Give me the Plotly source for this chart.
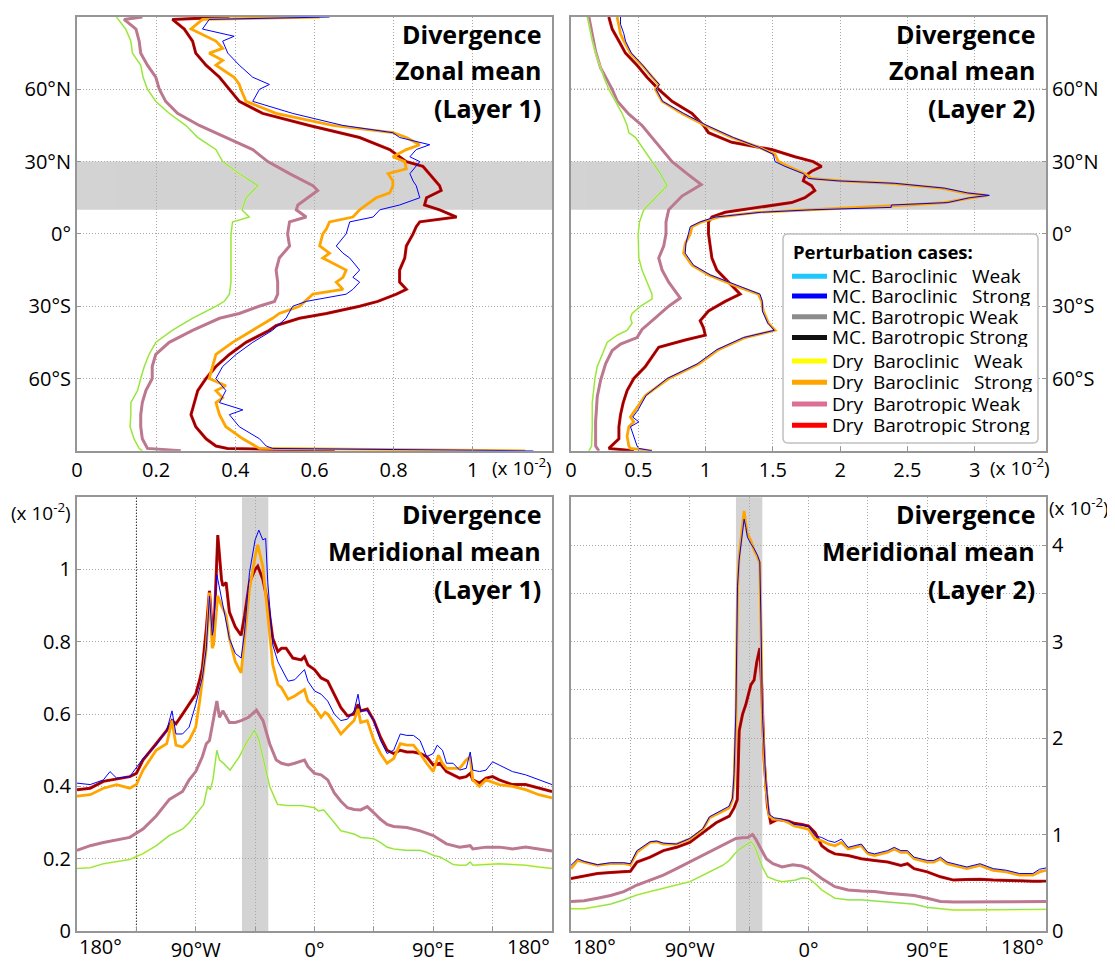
import plotly.graph_objects as go

# ------------------------------------------------------------------
# DATA  (values in units of 10^-2)
# ------------------------------------------------------------------
# --- Top-left: zonal mean, layer 1 (x = divergence, y = latitude) ---
TL_BCW_LAT = [90, 89.5, 85, 80, 75, 70, 65, 60, 55, 50, 45, 40, 35, 30, 25, 20, 15, 10, 7, 5, 0, -10, -20, -25, -28,
              -30, -35, -40, -45, -50, -55, -60, -65, -70, -75, -80, -85, -89, -90]
TL_BCW = [0.100, 0.102, 0.123, 0.136, 0.140, 0.161, 0.167, 0.178, 0.199, 0.233, 0.275, 0.305, 0.351, 0.368, 0.410,
          0.457, 0.427, 0.417, 0.435, 0.393, 0.389, 0.389, 0.389, 0.385, 0.372, 0.351, 0.292, 0.241, 0.199, 0.182,
          0.170, 0.161, 0.153, 0.136, 0.136, 0.134, 0.144, 0.157, 0.165]

TL_BTW_LAT = [90, 89, 85, 80, 75, 70, 65, 60, 55, 50, 45, 40, 35, 30, 25, 20, 18, 15, 12, 10, 7, 5, 0, -5, -10, -15,
              -20, -25, -28, -30, -33, -35, -40, -45, -50, -55, -60, -65, -70, -75, -80, -85, -89, -90]
TL_BTW = [0.165, 0.119, 0.149, 0.157, 0.161, 0.178, 0.199, 0.208, 0.224, 0.254, 0.309, 0.376, 0.444, 0.482, 0.537,
          0.596, 0.608, 0.583, 0.558, 0.554, 0.579, 0.537, 0.532, 0.537, 0.511, 0.503, 0.507, 0.507, 0.499, 0.460,
          0.410, 0.360, 0.292, 0.233, 0.199, 0.190, 0.190, 0.174, 0.165, 0.161, 0.161, 0.165, 0.178, 0.262]

TL_BTS_LAT = [90, 89, 85, 80, 75, 70, 65, 60, 55, 50, 45, 40, 35, 30, 28, 25, 20, 18, 15, 12, 10, 7, 5, 3, 0, -5,
              -10, -15, -20, -23, -25, -28, -30, -33, -35, -38, -40, -45, -50, -55, -60, -65, -70, -75, -80, -85,
              -88, -89, -90]
TL_BTS = [0.385, 0.241, 0.271, 0.292, 0.300, 0.326, 0.360, 0.385, 0.410, 0.469, 0.587, 0.714, 0.790, 0.832, 0.874,
          0.890, 0.916, 0.920, 0.883, 0.878, 0.916, 0.959, 0.866, 0.857, 0.849, 0.832, 0.828, 0.815, 0.815, 0.832,
          0.807, 0.760, 0.714, 0.630, 0.562, 0.503, 0.486, 0.427, 0.385, 0.351, 0.326, 0.305, 0.297, 0.288, 0.300,
          0.326, 0.351, 0.380, 0.651]

TL_BCS_DRY_LAT = [90, 89, 85, 80, 77, 75, 72, 70, 65, 62, 60, 55, 50, 45, 42, 40, 37, 35, 32, 30, 27, 25, 22, 20, 17,
                  15, 12, 10, 7, 5, 2, 0, -5, -8, -10, -15, -18, -20, -23, -25, -30, -33, -35, -40, -45, -50, -55,
                  -60, -63, -65, -68, -70, -75, -80, -85, -88, -89, -90]
TL_BCS_DRY = [0.613, 0.317, 0.288, 0.351, 0.368, 0.334, 0.368, 0.351, 0.397, 0.410, 0.414, 0.427, 0.503, 0.646,
              0.798, 0.832, 0.866, 0.832, 0.798, 0.828, 0.832, 0.786, 0.798, 0.798, 0.790, 0.756, 0.731, 0.714,
              0.697, 0.638, 0.630, 0.621, 0.613, 0.638, 0.621, 0.680, 0.672, 0.655, 0.672, 0.596, 0.562, 0.511,
              0.494, 0.444, 0.393, 0.351, 0.343, 0.334, 0.376, 0.351, 0.368, 0.351, 0.360, 0.376, 0.419, 0.452,
              0.461, 1.132]

TL_BCS_MC_LAT = [90, 89, 85, 82, 80, 75, 70, 65, 62, 60, 55, 50, 45, 42, 40, 37, 35, 32, 30, 25, 22, 20, 15, 12, 10,
                 7, 5, 0, -5, -8, -10, -15, -18, -20, -23, -25, -28, -30, -35, -40, -45, -50, -55, -60, -65, -70,
                 -73, -75, -80, -85, -88, -89, -90]
TL_BCS_MC = [0.638, 0.334, 0.317, 0.397, 0.368, 0.381, 0.410, 0.444, 0.486, 0.461, 0.444, 0.545, 0.672, 0.798,
             0.815, 0.891, 0.857, 0.841, 0.866, 0.841, 0.849, 0.857, 0.866, 0.815, 0.765, 0.748, 0.689, 0.680,
             0.655, 0.672, 0.689, 0.714, 0.697, 0.714, 0.697, 0.680, 0.579, 0.545, 0.528, 0.494, 0.444, 0.402,
             0.368, 0.351, 0.376, 0.360, 0.419, 0.385, 0.410, 0.461, 0.478, 0.494, 1.153]

# --- Top-right: zonal mean, layer 2 ---
TR_BCW_LAT = [90, 85, 80, 75, 70, 65, 60, 55, 50, 45, 42, 40, 35, 30, 25, 20, 15, 10, 5, 0, -10, -15, -20, -25, -27,
              -30, -33, -35, -37, -40, -42, -45, -50, -55, -60, -70, -80, -88, -90]
TR_BCW = [0.121, 0.138, 0.158, 0.183, 0.212, 0.244, 0.281, 0.331, 0.380, 0.417, 0.430, 0.479, 0.541, 0.602, 0.664,
          0.714, 0.627, 0.541, 0.509, 0.499, 0.504, 0.528, 0.565, 0.602, 0.602, 0.516, 0.454, 0.442, 0.454, 0.417,
          0.343, 0.269, 0.232, 0.195, 0.178, 0.158, 0.158, 0.153, 0.133]

TR_BTW_LAT = [90, 82.5, 75.7, 68.9, 60, 55.2, 49.7, 45, 40, 34.8, 30, 25, 20.5, 15.7, 10, 5, 0, -5, -10, -15, -20,
              -26.6, -30, -34.8, -39.6, -43, -45.7, -48.4, -53.9, -60.7, -67.5, -78, -88, -90]
TR_BTW = [0.133, 0.158, 0.183, 0.220, 0.306, 0.343, 0.430, 0.528, 0.602, 0.677, 0.751, 0.862, 0.968, 0.825, 0.726,
          0.706, 0.706, 0.689, 0.652, 0.677, 0.726, 0.812, 0.726, 0.627, 0.528, 0.491, 0.368, 0.306, 0.257, 0.220,
          0.195, 0.183, 0.183, 0.207]

TR_BTS_LAT = [90, 85, 80, 75, 70, 65, 60, 55, 50, 45, 42, 38, 35, 32, 30, 28, 26, 24, 22, 20, 18, 15, 13, 11, 9, 7, 5,
              0, -5, -10, -15, -20, -25, -28, -32, -36, -39, -42, -44, -47, -50, -55, -60, -65, -70, -75, -80, -85,
              -89, -90]
TR_BTS = [0.281, 0.306, 0.356, 0.405, 0.491, 0.565, 0.652, 0.751, 0.899, 0.985, 1.022, 1.195, 1.491, 1.664, 1.800,
          1.862, 1.788, 1.738, 1.726, 1.788, 1.812, 1.738, 1.640, 1.393, 1.146, 1.047, 1.022, 1.022, 1.035, 1.047,
          1.084, 1.170, 1.257, 1.146, 1.022, 0.960, 0.985, 0.998, 0.849, 0.652, 0.615, 0.553, 0.467, 0.417, 0.388,
          0.368, 0.356, 0.356, 0.281, 0.467]

TR_BCS_LAT = [90, 87, 83, 80, 75, 70, 65, 62, 60, 55, 50, 45, 40, 36, 33, 30, 28, 25, 23, 22, 21, 19, 17, 16, 15, 13,
              12, 11, 10, 9, 7, 5, 3, 0, -4, -8, -13, -17, -22, -25, -28, -32, -37, -40, -43, -48, -54, -60, -67,
              -73, -76, -78, -80, -84, -88, -89, -90]
TR_BCS_DRY = [0.343, 0.356, 0.368, 0.393, 0.442, 0.528, 0.602, 0.652, 0.627, 0.677, 0.825, 0.998, 1.195, 1.393,
              1.516, 1.541, 1.615, 1.738, 1.788, 2.010, 2.380, 2.751, 2.923, 3.096, 2.973, 2.775, 2.504, 2.133,
              1.763, 1.393, 1.096, 0.973, 0.899, 0.886, 0.849, 0.837, 0.899, 1.022, 1.244, 1.393, 1.417, 1.430,
              1.467, 1.516, 1.294, 1.096, 0.948, 0.726, 0.553, 0.479, 0.442, 0.467, 0.430, 0.417, 0.430, 0.442,
              0.602]
TR_BCS_MC = [0.368, 0.368, 0.393, 0.405, 0.449, 0.533, 0.607, 0.657, 0.632, 0.681, 0.837, 1.010, 1.207, 1.393,
             1.504, 1.516, 1.590, 1.726, 1.763, 1.985, 2.405, 2.775, 2.948, 3.109, 2.960, 2.800, 2.380, 2.380,
             1.788, 1.417, 1.072, 0.960, 0.886, 0.874, 0.854, 0.849, 0.911, 1.035, 1.257, 1.405, 1.422, 1.422,
             1.462, 1.511, 1.281, 1.084, 0.936, 0.714, 0.558, 0.499, 0.459, 0.504, 0.442, 0.467, 0.491, 0.504,
             0.602]

# --- Bottom-left: meridional mean, layer 1 (x = longitude, y = divergence) ---
BL_BCW_LON = [-180, -170, -160, -150, -140, -130, -120, -110, -100, -95, -90, -85, -84, -81, -79, -77, -74, -72, -69,
              -64, -57, -52, -45.5, -42, -39, -34, -28, -20, -10, 0, 3, 7, 15, 20, 25, 30, 35, 45, 50, 55, 60, 70,
              80, 85, 90, 95, 100, 105, 110, 115, 118, 120, 130, 140, 150, 160, 170, 180]
BL_BCW = [0.173, 0.175, 0.186, 0.193, 0.198, 0.214, 0.236, 0.264, 0.282, 0.300, 0.323, 0.345, 0.350, 0.400, 0.391,
          0.418, 0.500, 0.473, 0.464, 0.445, 0.482, 0.518, 0.556, 0.527, 0.482, 0.400, 0.350, 0.347, 0.347, 0.341,
          0.332, 0.335, 0.300, 0.277, 0.273, 0.268, 0.259, 0.255, 0.245, 0.232, 0.227, 0.223, 0.223, 0.218, 0.209,
          0.205, 0.195, 0.184, 0.182, 0.182, 0.191, 0.182, 0.184, 0.186, 0.184, 0.182, 0.177, 0.173]

BL_BTW_LON = [-180, -170, -160, -150, -140, -130, -120, -110, -100, -95, -90, -85, -82, -79.6, -77, -74, -72, -69.5,
              -64.5, -60, -55.6, -50, -44, -39, -34, -29, -25, -20, -15, -7.6, -5, 0, 5, 10, 15, 20, 25, 30, 35, 40,
              45, 50, 55, 60, 70, 80, 90, 100, 110, 118, 120, 130, 140, 150, 160, 170, 180]
BL_BTW = [0.223, 0.236, 0.245, 0.253, 0.259, 0.282, 0.318, 0.364, 0.386, 0.418, 0.441, 0.482, 0.518, 0.527, 0.582,
          0.636, 0.591, 0.609, 0.577, 0.577, 0.582, 0.591, 0.611, 0.582, 0.518, 0.473, 0.464, 0.459, 0.464, 0.473,
          0.455, 0.436, 0.432, 0.418, 0.382, 0.359, 0.341, 0.336, 0.335, 0.344, 0.327, 0.309, 0.295, 0.289, 0.286,
          0.277, 0.264, 0.241, 0.232, 0.236, 0.227, 0.232, 0.232, 0.227, 0.232, 0.227, 0.221]

BL_BTS_LON = [-180, -170, -160, -150, -140, -135, -130, -120, -112, -108, -105, -100, -95, -90, -87, -85, -82, -79.6,
              -76.6, -73.3, -70.5, -69.5, -67, -64.5, -60, -55.6, -53, -49.3, -45, -43, -39.2, -35.4, -31.6, -27.8,
              -25, -21.5, -16.4, -10, -7.6, -5, 0, 5, 10, 15, 20, 25, 30, 33, 35, 40, 45, 50, 55, 60, 65, 70, 75, 80,
              85, 90, 95, 100, 110, 115, 118, 120, 125, 130, 135, 140, 150, 160, 170, 180]
BL_BTS = [0.391, 0.395, 0.414, 0.420, 0.427, 0.436, 0.473, 0.518, 0.555, 0.582, 0.573, 0.600, 0.627, 0.655, 0.695,
          0.727, 0.836, 0.941, 0.791, 1.095, 0.973, 0.955, 0.964, 0.882, 0.841, 0.818, 0.873, 0.964, 1.000, 1.009,
          0.973, 0.909, 0.809, 0.773, 0.782, 0.782, 0.755, 0.750, 0.759, 0.736, 0.723, 0.700, 0.691, 0.655, 0.618,
          0.595, 0.600, 0.627, 0.609, 0.614, 0.582, 0.536, 0.500, 0.491, 0.500, 0.495, 0.495, 0.491, 0.482, 0.459,
          0.464, 0.441, 0.423, 0.427, 0.436, 0.418, 0.409, 0.423, 0.427, 0.418, 0.405, 0.405, 0.395, 0.386]

BL_BCS_DRY_LON = [-180, -170, -160, -150, -140, -135, -130, -120, -112, -108, -105, -100, -95, -90, -87, -85, -82,
                  -79.6, -77.5, -76.6, -73.3, -70.5, -67, -64.5, -60, -55.6, -53, -49.3, -45, -43, -39.2, -35.4,
                  -31.6, -27.8, -25, -20, -15, -7.6, -5, 0, 5, 8, 10, 15, 20, 25, 30, 33, 35, 40, 45, 50, 55, 60, 65,
                  70, 75, 80, 85, 90, 94, 97, 100, 110, 115, 118, 120, 125, 130, 140, 150, 160, 170, 180]
BL_BCS_DRY = [0.373, 0.377, 0.395, 0.405, 0.395, 0.405, 0.445, 0.500, 0.518, 0.582, 0.514, 0.509, 0.527, 0.564,
              0.636, 0.691, 0.782, 0.936, 0.782, 0.791, 0.927, 0.900, 0.873, 0.809, 0.745, 0.714, 0.809, 0.945,
              1.036, 1.068, 1.009, 0.873, 0.736, 0.682, 0.673, 0.641, 0.650, 0.668, 0.636, 0.618, 0.591, 0.605,
              0.600, 0.573, 0.545, 0.564, 0.582, 0.614, 0.577, 0.582, 0.527, 0.491, 0.464, 0.477, 0.518, 0.514,
              0.514, 0.491, 0.464, 0.441, 0.486, 0.464, 0.450, 0.450, 0.473, 0.482, 0.418, 0.400, 0.418, 0.405,
              0.400, 0.391, 0.377, 0.368]

BL_BCS_MC_LON = [-180, -170, -160, -155, -150, -140, -130, -120, -112, -108, -105, -100, -95, -90, -87, -85, -82,
                 -79.6, -77.5, -76.6, -74, -70.5, -67, -64.5, -60, -55.6, -53, -49.3, -45, -42.2, -39.2, -37, -35.4,
                 -31.6, -27.8, -25, -20, -15, -7.6, -5, 0, 5, 10, 15, 20, 25, 30, 33, 35, 40, 45, 50, 55, 60, 65, 70,
                 75, 80, 85, 90, 93, 97, 100, 105, 110, 115, 118, 120, 125, 130, 135, 140, 150, 160, 170, 180]
BL_BCS_MC = [0.409, 0.405, 0.418, 0.441, 0.423, 0.427, 0.477, 0.514, 0.555, 0.609, 0.545, 0.545, 0.564, 0.627,
             0.673, 0.700, 0.782, 0.927, 0.818, 0.836, 0.986, 0.918, 0.855, 0.809, 0.768, 0.755, 0.827, 0.991,
             1.082, 1.109, 1.082, 1.086, 0.964, 0.791, 0.745, 0.727, 0.691, 0.695, 0.723, 0.691, 0.664, 0.655,
             0.636, 0.600, 0.582, 0.586, 0.609, 0.655, 0.609, 0.609, 0.582, 0.527, 0.491, 0.500, 0.545, 0.541,
             0.541, 0.527, 0.482, 0.491, 0.514, 0.500, 0.464, 0.464, 0.445, 0.450, 0.495, 0.445, 0.441, 0.445,
             0.468, 0.459, 0.441, 0.432, 0.418, 0.405]

# --- Bottom-right: meridional mean, layer 2 ---
BR_BCW_LON = [-180, -170, -160, -150, -140, -130, -120, -110, -100, -90, -80, -70, -65, -60, -56, -52, -48, -43.7,
              -41, -38, -35, -31, -25, -20, -10, -5, 0, 5, 10, 20, 30, 40, 50, 60, 70, 80, 90, 100, 110, 120, 130,
              140, 150, 160, 170, 180]
BR_BCW = [0.231, 0.231, 0.255, 0.279, 0.323, 0.374, 0.409, 0.443, 0.477, 0.511, 0.579, 0.647, 0.681, 0.732, 0.800,
          0.851, 0.885, 0.926, 0.885, 0.783, 0.664, 0.562, 0.528, 0.511, 0.528, 0.551, 0.545, 0.494, 0.426, 0.340,
          0.323, 0.323, 0.313, 0.306, 0.289, 0.279, 0.245, 0.231, 0.218, 0.218, 0.218, 0.221, 0.221, 0.225, 0.225,
          0.225]

BR_BTW_LON = [-180, -170, -160, -150, -140, -130, -120, -110, -100, -90, -80, -70, -60, -55, -50, -46, -42.5, -40,
              -36, -32, -27, -20, -12, -5, 0, 10, 20, 30, 40, 50, 60, 70, 80, 90, 100, 110, 120, 130, 140, 150, 160,
              170, 180]
BR_BTW = [0.306, 0.313, 0.340, 0.368, 0.409, 0.477, 0.528, 0.579, 0.647, 0.715, 0.783, 0.851, 0.926, 0.960, 0.967,
          0.970, 1.001, 0.953, 0.851, 0.749, 0.698, 0.664, 0.688, 0.674, 0.647, 0.545, 0.460, 0.426, 0.415, 0.409,
          0.392, 0.381, 0.368, 0.340, 0.306, 0.300, 0.300, 0.306, 0.300, 0.300, 0.306, 0.306, 0.306]

BR_BTS_LON = [-180, -170, -160, -150, -140, -135, -130, -120, -110, -100, -90, -80, -70, -65, -60, -56.4, -54, -52.5,
              -50, -47.5, -43.7, -41.2, -39.2, -36.9, -35.4, -33.6, -31.1, -28.6, -23.5, -15, -10.9, -5, 0, 5, 10,
              15, 20, 30, 40, 50, 60, 70, 75, 80, 90, 100, 110, 120, 130, 140, 150, 160, 170, 180]
BR_BTS = [0.545, 0.572, 0.596, 0.606, 0.613, 0.620, 0.715, 0.766, 0.834, 0.868, 0.919, 1.021, 1.123, 1.157, 1.191,
          1.277, 1.362, 2.077, 2.247, 2.349, 2.553, 2.604, 2.791, 2.934, 2.519, 1.770, 1.294, 1.123, 1.157, 1.140,
          1.117, 1.106, 1.089, 1.021, 0.885, 0.834, 0.800, 0.783, 0.749, 0.732, 0.715, 0.681, 0.698, 0.647, 0.613,
          0.562, 0.528, 0.534, 0.538, 0.528, 0.528, 0.521, 0.517, 0.517]

BR_BCS_LON = [-180, -175, -170, -160, -150, -140, -135, -130, -120, -115, -110, -100, -90, -80, -75, -70, -65, -60.2,
              -57.6, -56.4, -55, -53.8, -52.6, -50, -48.8, -47.5, -46.3, -43.7, -41.2, -38.7, -36.9, -36.1, -34.9,
              -32.4, -29.8, -26, -21, -15, -10.9, -5, 0, 5, 10, 15, 20, 25, 30, 35, 40, 45, 50, 60, 65, 70, 75, 80,
              90, 95, 100, 105, 110, 120, 130, 140, 150, 160, 170, 175, 180]
BR_BCS_DRY = [0.647, 0.732, 0.715, 0.681, 0.698, 0.698, 0.688, 0.817, 0.919, 0.926, 0.902, 0.902, 0.953, 1.055,
              1.174, 1.209, 1.243, 1.277, 1.362, 1.566, 2.179, 3.540, 3.881, 4.187, 4.357, 4.221, 4.119, 4.051,
              3.949, 3.881, 3.813, 3.200, 2.179, 1.498, 1.191, 1.157, 1.157, 1.123, 1.089, 1.072, 1.055, 0.953,
              0.936, 0.902, 0.885, 0.919, 0.851, 0.868, 0.885, 0.800, 0.783, 0.817, 0.851, 0.817, 0.817, 0.749,
              0.715, 0.715, 0.749, 0.698, 0.681, 0.647, 0.681, 0.630, 0.613, 0.579, 0.579, 0.613, 0.630]
BR_BCS_MC = [0.681, 0.749, 0.722, 0.688, 0.708, 0.708, 0.698, 0.834, 0.926, 0.933, 0.912, 0.902, 0.960, 1.062,
             1.185, 1.219, 1.253, 1.294, 1.379, 1.634, 2.315, 3.574, 3.847, 4.153, 4.272, 4.187, 4.085, 4.017,
             3.966, 3.898, 3.830, 3.268, 2.247, 1.566, 1.209, 1.174, 1.164, 1.140, 1.106, 1.096, 1.083, 0.987,
             0.970, 0.936, 0.919, 0.953, 0.868, 0.885, 0.902, 0.817, 0.800, 0.834, 0.868, 0.834, 0.834, 0.766,
             0.732, 0.732, 0.766, 0.715, 0.698, 0.664, 0.698, 0.647, 0.630, 0.596, 0.596, 0.640, 0.654]

# Legend entries (case names) and colours
LEGEND_TITLE = "Perturbation cases:"
CASE_NAMES = ["MC.\u00a0Baroclinic\u00a0\u00a0\u00a0Weak", "MC.\u00a0Baroclinic\u00a0\u00a0\u00a0Strong",
              "MC.\u00a0Barotropic\u00a0Weak", "MC.\u00a0Barotropic\u00a0Strong",
              "Dry\u00a0\u00a0Baroclinic\u00a0\u00a0\u00a0Weak", "Dry\u00a0\u00a0Baroclinic\u00a0\u00a0\u00a0Strong",
              "Dry\u00a0\u00a0Barotropic\u00a0Weak", "Dry\u00a0\u00a0Barotropic\u00a0Strong"]
CASE_COLORS = ["#1EC8FF", "#0000FF", "#8C8C8C", "#111111", "#FFFF00", "#FFA500", "#DB7093", "#FF0000"]

# ------------------------------------------------------------------
# LAYOUT GEOMETRY (reference pixel positions; page body adds 8 px)
# ------------------------------------------------------------------
FONT = "Open Sans"
W, H = 1107, 962
ML, MR, MT, MB = 69, 69, 7, 28
PW = W - ML - MR
PH = H - MT - MB


def px_x(px):
    return (px - 8 - ML) / PW


def px_y(py):
    return (H - MB - (py - 8)) / PH


X_LEFT = [0, px_x(552)]
X_RIGHT = [px_x(571), 1]
Y_TOP = [px_y(455), 1]
Y_BOT = [0, px_y(502)]

fig = go.Figure()


def add_panel(xa, ya, zonal, bcw, btw, bts, bcs_dry, bcs_mc):
    def tr(pair, idx, width, opacity=1.0):
        coord, val = pair
        if zonal:
            x, y = val, coord
        else:
            x, y = coord, val
        fig.add_trace(go.Scatter(x=x, y=y, mode="lines", name=CASE_NAMES[idx].replace("\u00a0", " "),
                                 line=dict(color=CASE_COLORS[idx], width=width),
                                 opacity=opacity, xaxis=xa, yaxis=ya, showlegend=False, hoverinfo="skip"))
    tr(btw, 6, 3.0)
    tr(btw, 2, 2.0, 0.55)
    tr(bts, 7, 3.0)
    tr(bts, 3, 2.0, 0.5)
    tr(bcw, 4, 1.8)
    tr(bcw, 0, 1.1, 0.6)
    tr(bcs_dry, 5, 2.8)
    tr(bcs_mc, 1, 1.0)


add_panel("x", "y", True, (TL_BCW_LAT, TL_BCW), (TL_BTW_LAT, TL_BTW), (TL_BTS_LAT, TL_BTS),
          (TL_BCS_DRY_LAT, TL_BCS_DRY), (TL_BCS_MC_LAT, TL_BCS_MC))
add_panel("x2", "y2", True, (TR_BCW_LAT, TR_BCW), (TR_BTW_LAT, TR_BTW), (TR_BTS_LAT, TR_BTS),
          (TR_BCS_LAT, TR_BCS_DRY), (TR_BCS_LAT, TR_BCS_MC))
add_panel("x3", "y3", False, (BL_BCW_LON, BL_BCW), (BL_BTW_LON, BL_BTW), (BL_BTS_LON, BL_BTS),
          (BL_BCS_DRY_LON, BL_BCS_DRY), (BL_BCS_MC_LON, BL_BCS_MC))
add_panel("x4", "y4", False, (BR_BCW_LON, BR_BCW), (BR_BTW_LON, BR_BTW), (BR_BTS_LON, BR_BTS),
          (BR_BCS_LON, BR_BCS_DRY), (BR_BCS_LON, BR_BCS_MC))

AX_COL = "#969696"
GRID_COL = "#a8a8a8"
GRID_DASH = "1px,2px"
TICKFONT = dict(family=FONT, size=20, color="black")


def axis(**kw):
    d = dict(showline=True, linecolor=AX_COL, linewidth=2, mirror=True, showgrid=True, gridcolor=GRID_COL,
             griddash=GRID_DASH, gridwidth=1, zeroline=False, ticks="inside", ticklen=4, tickcolor=AX_COL,
             tickfont=TICKFONT, fixedrange=True)
    d.update(kw)
    return d


LAT_TICKS = [60, 30, 0, -30, -60]
LAT_TEXT = ["60°N", "30°N", "0°", "30°S", "60°S"]
LON_MINOR = dict(tickvals=[-135, -45, 45, 135], showgrid=True, griddash=GRID_DASH, gridcolor=GRID_COL,
                 ticks="inside", ticklen=4, tickcolor=AX_COL)

fig.update_layout(
    width=W, height=H, paper_bgcolor="white", plot_bgcolor="white",
    margin=dict(l=ML, r=MR, t=MT, b=MB),
    font=dict(family=FONT, color="black"),
    showlegend=False,
    xaxis=axis(domain=X_LEFT, anchor="y", range=[0, 1.2], tickvals=[0, 0.2, 0.4, 0.6, 0.8, 1.0],
               ticktext=["0", "0.2", "0.4", "0.6", "0.8", "1"]),
    yaxis=axis(domain=Y_TOP, anchor="x", range=[-90, 90], tickvals=LAT_TICKS, ticktext=LAT_TEXT),
    xaxis2=axis(domain=X_RIGHT, anchor="y2", range=[0, 3.53], tickvals=[0, 0.5, 1, 1.5, 2, 2.5, 3],
                ticktext=["0", "0.5", "1", "1.5", "2", "2.5", "3"]),
    yaxis2=axis(domain=Y_TOP, anchor="x2", side="right", range=[-90, 90], tickvals=LAT_TICKS, ticktext=LAT_TEXT),
    xaxis3=axis(domain=X_LEFT, anchor="y3", range=[-180, 180], tickvals=[-90, 0, 90],
                ticktext=["90°W", "0°", "90°E"], minor=LON_MINOR),
    yaxis3=axis(domain=Y_BOT, anchor="x3", range=[0, 1.2], tickvals=[0, 0.2, 0.4, 0.6, 0.8, 1.0],
                ticktext=["0", "0.2", "0.4", "0.6", "0.8", "1"]),
    xaxis4=axis(domain=X_RIGHT, anchor="y4", range=[-180, 180], tickvals=[-90, 0, 90],
                ticktext=["90°W", "0°", "90°E"], minor=LON_MINOR),
    yaxis4=axis(domain=Y_BOT, anchor="x4", side="right", range=[0, 4.5], tickvals=[0, 1, 2, 3, 4],
                ticktext=["0", "1", "2", "3", "4"],
                minor=dict(tickvals=[0.5, 1.5, 2.5, 3.5], showgrid=True, griddash=GRID_DASH, gridcolor=GRID_COL,
                           ticks="inside", ticklen=4, tickcolor=AX_COL)),
)

# shaded bands
BAND = "#d3d3d3"
fig.add_shape(type="rect", xref="x domain", yref="y", x0=0, x1=1, y0=10, y1=30, fillcolor=BAND,
              line=dict(width=0), layer="below")
fig.add_shape(type="rect", xref="x2 domain", yref="y2", x0=0, x1=1, y0=10, y1=30, fillcolor=BAND,
              line=dict(width=0), layer="below")
fig.add_shape(type="rect", xref="x3", yref="y3 domain", x0=-55, x1=-35, y0=0, y1=1, fillcolor=BAND,
              line=dict(width=0), layer="below")
fig.add_shape(type="rect", xref="x4", yref="y4 domain", x0=-55, x1=-35, y0=0, y1=1, fillcolor=BAND,
              line=dict(width=0), layer="below")
# darker dotted grid lines seen in the reference
fig.add_shape(type="line", xref="x2 domain", yref="y2", x0=0, x1=1, y0=60, y1=60,
              line=dict(color="#222222", width=1, dash="1px,2px"), layer="below")
fig.add_shape(type="line", xref="x3", yref="y3 domain", x0=-135, x1=-135, y0=0, y1=1,
              line=dict(color="#222222", width=1, dash="1px,2px"), layer="below")

# panel titles
TITLE_FONT = dict(family=FONT, size=25, color="black")
TITLES = [
    (px_x(543), [32, 69, 107], ["Divergence", "Zonal mean", "(Layer 1)"]),
    (px_x(1037), [32, 69, 107], ["Divergence", "Zonal mean", "(Layer 2)"]),
    (px_x(543), [519, 557, 595], ["Divergence", "Meridional mean", "(Layer 1)"]),
    (px_x(1037), [519, 557, 595], ["Divergence", "Meridional mean", "(Layer 2)"]),
]
for xr, ys, texts in TITLES:
    for yy, t in zip(ys, texts):
        fig.add_annotation(xref="paper", yref="paper", x=xr, y=px_y(yy), xanchor="right", yanchor="middle",
                           text="<b>%s</b>" % t, showarrow=False, font=TITLE_FONT)

# scale labels
SCALE = "(x 10<sup>-2</sup>)"
SFONT = dict(family=FONT, size=19, color="black")
fig.add_annotation(xref="paper", yref="paper", x=px_x(490), y=px_y(471), xanchor="left", yanchor="middle",
                   text=SCALE, showarrow=False, font=SFONT)
fig.add_annotation(xref="paper", yref="paper", x=px_x(988), y=px_y(471), xanchor="left", yanchor="middle",
                   text=SCALE, showarrow=False, font=SFONT)
fig.add_annotation(xref="paper", yref="paper", x=px_x(73), y=px_y(517), xanchor="right", yanchor="middle",
                   text=SCALE, showarrow=False, font=SFONT)
fig.add_annotation(xref="paper", yref="paper", x=px_x(1047), y=px_y(512), xanchor="left", yanchor="middle",
                   text=SCALE, showarrow=False, font=SFONT)

# 180° edge labels of the longitude axes
EFONT = dict(family=FONT, size=20, color="black")
for xp, anchor in [(77, "left"), (552, "right"), (571, "left"), (1046, "right")]:
    fig.add_annotation(xref="paper", yref="paper", x=px_x(xp), y=px_y(958), xanchor=anchor, yanchor="middle",
                       text="180°", showarrow=False, font=EFONT)

# legend box (drawn in the upper-right panel, as in the reference)
LX0, LX1, LY0, LY1, RAD = 783, 1038, 235, 447, 5
rx, ry = RAD / PW, RAD / PH
x0, x1, y0, y1 = px_x(LX0), px_x(LX1), px_y(LY1), px_y(LY0)
box_path = ("M {a},{b} L {c},{b} Q {x1},{b} {x1},{d} L {x1},{e} Q {x1},{y1} {c},{y1} "
            "L {a},{y1} Q {x0},{y1} {x0},{e} L {x0},{d} Q {x0},{b} {a},{b} Z").format(
    a=x0 + rx, c=x1 - rx, b=y0, d=y0 + ry, e=y1 - ry, x0=x0, x1=x1, y1=y1)
fig.add_shape(type="path", xref="paper", yref="paper", path=box_path, fillcolor="white",
              line=dict(color="#c0c0c0", width=1.5), layer="above")
fig.add_annotation(xref="paper", yref="paper", x=px_x(791), y=px_y(253), xanchor="left", yanchor="middle",
                   text="<b>%s</b>" % LEGEND_TITLE, showarrow=False,
                   font=dict(family=FONT, size=18.5, color="black"))
ROW_Y = [278, 298, 319, 340, 364, 385.5, 407.5, 429]
for name, col, ry_ in zip(CASE_NAMES, CASE_COLORS, ROW_Y):
    fig.add_shape(type="line", xref="paper", yref="paper", x0=px_x(792), x1=px_x(827), y0=px_y(ry_),
                  y1=px_y(ry_), line=dict(color=col, width=5), layer="above")
    fig.add_annotation(xref="paper", yref="paper", x=px_x(831), y=px_y(ry_), xanchor="left", yanchor="middle",
                       text=name, showarrow=False, height=20, borderpad=0, valign="middle",
                       font=dict(family=FONT, size=19, color="black"))

fig.write_html("out.html")
